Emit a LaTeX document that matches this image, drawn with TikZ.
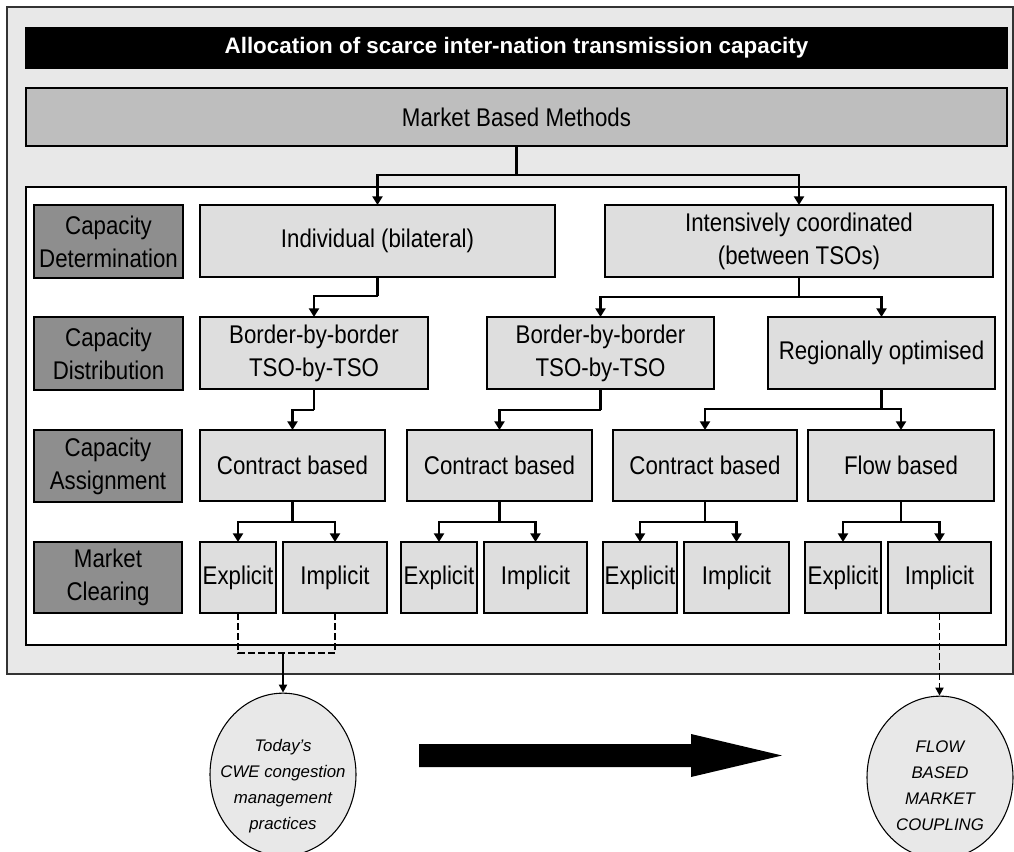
\documentclass[tikz,border=0pt]{standalone}
\usepackage{fontspec}
\setmainfont{Liberation Sans}
\newfontfamily\narrowsans{Liberation Sans}[FakeStretch=0.87]
\usetikzlibrary{arrows.meta,shapes.geometric}
\definecolor{framegray}{HTML}{E8E8E8}
\definecolor{headgray}{HTML}{BEBEBE}
\definecolor{cellgray}{HTML}{DEDEDE}
\definecolor{labelgray}{HTML}{8E8E8E}
\begin{document}
\begin{tikzpicture}[x=0.75pt,y=-0.75pt,
  sz/.style 2 args={minimum width=#1*0.75pt,minimum height=#2*0.75pt},
  boxline/.style={draw=black,line width=1.1pt,inner sep=0pt,outer sep=0pt},
  cell/.style={boxline,fill=cellgray,align=center,
    font=\narrowsans\fontsize{19.2}{24.75}\selectfont},
  rowlabel/.style={cell,fill=labelgray},
  conn/.style={line width=2.2pt,-{Triangle[length=6.5pt,width=7.5pt]}},
  stem/.style={line width=2.2pt},
  dashlink/.style={line width=1.4pt,dash pattern=on 5pt off 2.5pt},
  goal/.style={ellipse,draw=black,line width=0.8pt,fill=framegray,inner sep=0pt,
    minimum width=109.5pt,minimum height=122pt},
  goaltext/.style={inner sep=0pt,align=center,
    font=\itshape\fontsize{12.6}{19.5}\selectfont},
]
\useasboundingbox (0,0) rectangle (1014,852);

% frames
\node[draw=black!80,line width=1.1pt,fill=framegray,inner sep=0pt,sz={1006}{667}] (frame) at (510,340.5) {};
\node[boxline,fill=black,text=white,font=\bfseries\fontsize{16.8}{20}\selectfont,
  sz={981}{40}] (title) at (516.5,48) {Allocation of scarce inter-nation transmission capacity};
\node[cell,fill=headgray,sz={981}{58}] (mbm) at (516.5,117) {Market Based Methods};
\node[boxline,fill=white,sz={980}{458}] (inner) at (516,416) {};

% row labels
\node[rowlabel,sz={149}{73}] (lab1) at (108.5,241.5) {Capacity\\Determination};
\node[rowlabel,sz={149}{73}] (lab2) at (108.5,353.5) {Capacity\\Distribution};
\node[rowlabel,sz={148}{72}] (lab3) at (108,466) {Capacity\\Assignment};
\node[rowlabel,sz={148}{71}] (lab4) at (108,577.5) {Market\\Clearing};

% capacity determination
\node[cell,sz={355}{72}] (ind) at (377.5,241) {Individual (bilateral)};
\node[cell,sz={388}{72}] (intc) at (799,241) {Intensively coordinated\\(between TSOs)};

% capacity distribution
\node[cell,sz={228}{72}] (bbb1) at (314,353) {Border-by-border\\TSO-by-TSO};
\node[cell,sz={227}{72}] (bbb2) at (600.5,353) {Border-by-border\\TSO-by-TSO};
\node[cell,sz={227}{72}] (reg) at (881.5,353) {Regionally optimised};

% capacity assignment
\node[cell,sz={185}{71}] (cb1) at (292.5,465.5) {Contract based};
\node[cell,sz={185}{71}] (cb2) at (499.5,465.5) {Contract based};
\node[cell,sz={184}{71}] (cb3) at (705,465.5) {Contract based};
\node[cell,sz={186}{71}] (fb) at (901,465.5) {Flow based};

% market clearing
\node[cell,sz={76}{71}] (ex1) at (238,577.5) {Explicit};
\node[cell,sz={104}{71}] (im1) at (335,577.5) {Implicit};
\node[cell,sz={76}{71}] (ex2) at (439,577.5) {Explicit};
\node[cell,sz={103}{71}] (im2) at (535.5,577.5) {Implicit};
\node[cell,sz={74}{71}] (ex3) at (640,577.5) {Explicit};
\node[cell,sz={105}{71}] (im3) at (736.5,577.5) {Implicit};
\node[cell,sz={76}{71}] (ex4) at (843,577.5) {Explicit};
\node[cell,sz={103}{71}] (im4) at (939.5,577.5) {Implicit};

% outcomes (text sits a little below the ellipse centre)
\node[goal] (e1) at (283,774.5) {};
\node[goaltext] (e1t) at ([yshift=-8.5pt]e1.center) {Today’s\\CWE congestion\\management\\practices};
\node[goal] (e2) at (940,777.5) {};
\node[goaltext] (e2t) at ([yshift=-6.5pt]e2.center) {FLOW\\BASED\\MARKET\\COUPLING};

% tree connectors
\draw[stem] (mbm.south) -- ++(0,29) coordinate (j0);
\draw[conn] (j0) -| (ind.north);
\draw[conn] (j0) -| (intc.north);

\draw[stem] (ind.south) -- ++(0,19) coordinate (j1);
\draw[conn] (j1) -| (bbb1.north);
\draw[stem] (intc.south) -- ++(0,20) coordinate (j2);
\draw[conn] (j2) -| (bbb2.north);
\draw[conn] (j2) -| (reg.north);

\draw[stem] (bbb1.south) -- ++(0,21) coordinate (j3);
\draw[conn] (j3) -| (cb1.north);
\draw[stem] (bbb2.south) -- ++(0,21) coordinate (j4);
\draw[conn] (j4) -| (cb2.north);
\draw[stem] (reg.south) -- ++(0,20) coordinate (j5);
\draw[conn] (j5) -| (cb3.north);
\draw[conn] (j5) -| (fb.north);

\foreach \c/\e/\i in {cb1/ex1/im1,cb2/ex2/im2,cb3/ex3/im3,fb/ex4/im4}{
  \draw[stem] (\c.south) -- ++(0,21) coordinate (k\c);
  \draw[conn] (k\c) -| (\e.north);
  \draw[conn] (k\c) -| (\i.north);
}

% links to the outcomes
\coordinate (d1) at (283,653);
\draw[dashlink] (ex1.south) |- (d1) -| (im1.south);
\draw[line width=1.4pt,-{Triangle[length=6pt,width=6pt]}] (d1) -- (e1.north);
\draw[dashlink,-{Triangle[length=6pt,width=6pt]}] (im4.south) -- (im4.south |- e2.north);

% transition arrow
\fill[black] (419,744) -- (691,744) -- (691,734) -- (782,755.5) -- (691,777) -- (691,767) -- (419,767) -- cycle;
\end{tikzpicture}
\end{document}
